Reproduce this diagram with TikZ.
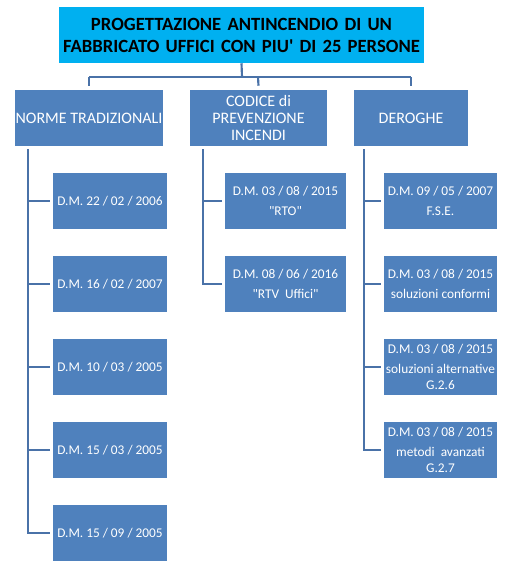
\documentclass[tikz,border=0pt]{standalone}
\usepackage{fontspec}
\setmainfont{Carlito}[Ligatures=TeXOff]
\definecolor{titlecol}{HTML}{00B0F0}
\definecolor{boxcol}{HTML}{4F81BD}
\definecolor{linecol}{HTML}{4A72A8}
\begin{document}
\begin{tikzpicture}[x=0.75pt,y=-0.75pt,
  titlebox/.style={fill=titlecol,draw=none,inner sep=0pt,minimum height=42pt,text width=273.75pt,align=center,font=\fontsize{14}{16.5}\selectfont\bfseries,text=black},
  lonebox/.style={fill=boxcol,draw=none,inner sep=0pt,minimum height=42pt,align=center,text=white,font=\fontsize{12}{13}\selectfont},
  ltwobox/.style={fill=boxcol,draw=none,inner sep=0pt,minimum height=42pt,align=center,text=white,font=\fontsize{10}{11.5}\selectfont},
  conn/.style={draw=linecol,line width=1.6pt}]
\useasboundingbox (0,0) rectangle (508,564);
\node[titlebox] (title) at (241.5,35) {PROGETTAZIONE ANTINCENDIO DI UN\\FABBRICATO UFFICI CON PIU' DI 25 PERSONE};
\node[lonebox,minimum width=111pt] (la) at (89,118) {NORME TRADIZIONALI};
\node[lonebox,minimum width=102.75pt] (lb) at (258.5,118) {CODICE di\\PREVENZIONE\\INCENDI};
\node[lonebox,minimum width=85.5pt] (lc) at (411,118) {DEROGHE};
% NORME children
\node[ltwobox,minimum width=85.5pt] (a1) at (110,201) {D.M. 22 / 02 / 2006};
\node[ltwobox,minimum width=85.5pt] (a2) at (110,284) {D.M. 16 / 02 / 2007};
\node[ltwobox,minimum width=85.5pt] (a3) at (110,367) {D.M. 10 / 03 / 2005};
\node[ltwobox,minimum width=85.5pt] (a4) at (110,450) {D.M. 15 / 03 / 2005};
\node[ltwobox,minimum width=85.5pt] (a5) at (110,533) {D.M. 15 / 09 / 2005};
% CODICE children
\node[ltwobox,minimum width=90.75pt] (b1) at (285.5,201) {D.M. 03 / 08 / 2015\\[3pt]"RTO"};
\node[ltwobox,minimum width=90.75pt] (b2) at (285.5,284) {D.M. 08 / 06 / 2016\\[3pt]"RTV\ \ Uffici"};
% DEROGHE children
\node[ltwobox,minimum width=84.75pt] (c1) at (440.5,201) {D.M. 09 / 05 / 2007\\[3pt]F.S.E.};
\node[ltwobox,minimum width=84.75pt] (c2) at (440.5,284) {D.M. 03 / 08 / 2015\\[3pt]soluzioni conformi};
\node[ltwobox,minimum width=84.75pt] (c3) at (440.5,367) {D.M. 03 / 08 / 2015\\[3.5pt]soluzioni alternative\\G.2.6};
\node[ltwobox,minimum width=84.75pt] (c4) at (440.5,450) {D.M. 03 / 08 / 2015\\[3.5pt]metodi\ \ avanzati\\G.2.7};
% top connectors
\coordinate (bus) at (242,77);
\draw[conn] (title.south) -- (bus);
\draw[conn] (la.north |- bus) -- (lc.north |- bus);
\draw[conn] (la.north |- bus) -- ([yshift=3pt]la.north);
\draw[conn] (258,77) -- ([yshift=3pt]lb.north);
\draw[conn] (lc.north |- bus) -- ([yshift=3pt]lc.north);
% NORME trunk
\coordinate (ta) at (28,149);
\draw[conn] (ta) |- ([xshift=-2.25pt]a5.west);
\foreach \n in {a1,a2,a3,a4} \draw[conn] (ta |- \n.west) -- ([xshift=-2.25pt]\n.west);
% CODICE trunk
\coordinate (tb) at (203,149);
\draw[conn] (tb) |- ([xshift=-2.25pt]b2.west);
\draw[conn] (tb |- b1.west) -- ([xshift=-2.25pt]b1.west);
% DEROGHE trunk
\coordinate (tc) at (364,149);
\draw[conn] (tc) |- ([xshift=-2.25pt]c4.west);
\foreach \n in {c1,c2,c3} \draw[conn] (tc |- \n.west) -- ([xshift=-2.25pt]\n.west);
\end{tikzpicture}
\end{document}
